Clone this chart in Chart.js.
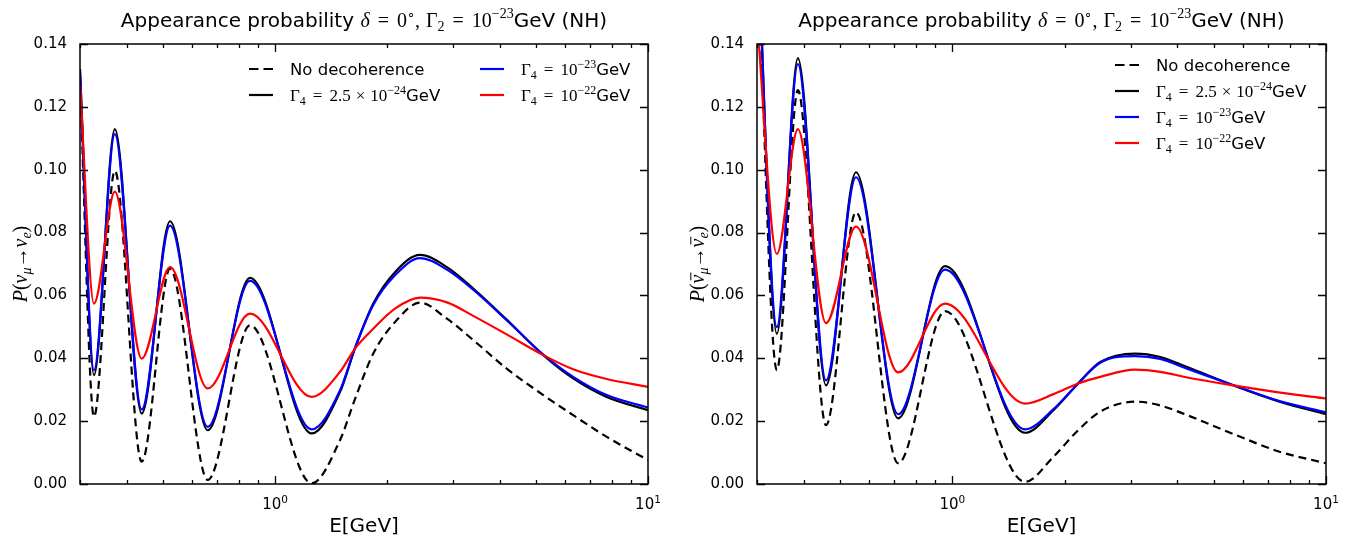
<!DOCTYPE html>
<html>
<head>
<meta charset="utf-8">
<script src="https://cdn.jsdelivr.net/npm/chart.js@4.4.0/dist/chart.umd.min.js"></script>
<style>
  body { margin: 0; background: #fff; }
  #wrap { display: flex; width: 1358px; height: 539px; }
  canvas { display: block; }
</style>
</head>
<body>
<div id="wrap">
  <canvas id="nuGraph" width="679" height="539"></canvas>
  <canvas id="nubarGraph" width="679" height="539"></canvas>
</div>
<script>
// neutrino panel, E in GeV
const nuEnergy = [0.300, 0.327, 0.372, 0.439, 0.523, 0.660, 0.857, 1.254, 1.494, 1.638, 1.834, 2.097, 2.447, 2.89, 3.40, 4.18, 5.24, 6.30, 7.75, 10];
const nuNoDecoherence = [0.128, 0.0214, 0.0997, 0.0071, 0.0685, 0.0013, 0.0505, 0.0002, 0.0140, 0.0270, 0.0415, 0.0515, 0.0577, 0.0526, 0.0458, 0.0367, 0.0283, 0.0219, 0.0150, 0.0076];
const nuGamma25e24 = [0.132, 0.0346, 0.1129, 0.0224, 0.0836, 0.0171, 0.0656, 0.0161, 0.0293, 0.0431, 0.0574, 0.0674, 0.0729, 0.0690, 0.0622, 0.0523, 0.0410, 0.0336, 0.0277, 0.0235];
const nuGamma1e23 = [0.131, 0.0362, 0.1113, 0.0237, 0.0822, 0.0182, 0.0646, 0.0174, 0.0298, 0.0433, 0.0570, 0.0664, 0.0719, 0.0682, 0.0618, 0.0521, 0.0412, 0.0341, 0.0283, 0.0243];
const nuGamma1e22 = [0.127, 0.0574, 0.0930, 0.0399, 0.0690, 0.0304, 0.0542, 0.0277, 0.0357, 0.0431, 0.0494, 0.0558, 0.0593, 0.0578, 0.0535, 0.0476, 0.0410, 0.0365, 0.0334, 0.0309];

// antineutrino panel
const nubarEnergy = [0.300, 0.339, 0.386, 0.459, 0.552, 0.716, 0.956, 1.566, 1.865, 2.171, 2.487, 3.086, 3.6, 4.25, 5.65, 7.55, 10];
const nubarNoDecoherence = [0.175, 0.0362, 0.1253, 0.0187, 0.0865, 0.0066, 0.0550, 0.0007, 0.0087, 0.0171, 0.0230, 0.0262, 0.0250, 0.0219, 0.0159, 0.0102, 0.0066];
const nubarGamma25e24 = [0.180, 0.0478, 0.1355, 0.0314, 0.0992, 0.0209, 0.0693, 0.0163, 0.0235, 0.0320, 0.0388, 0.0415, 0.0404, 0.0372, 0.0314, 0.0261, 0.0222];
const nubarGamma1e23 = [0.178, 0.0499, 0.1336, 0.0330, 0.0976, 0.0222, 0.0682, 0.0174, 0.0238, 0.0320, 0.0386, 0.0407, 0.0398, 0.0367, 0.0314, 0.0263, 0.0228];
const nubarGamma1e22 = [0.148, 0.0732, 0.1129, 0.0512, 0.0819, 0.0355, 0.0574, 0.0256, 0.0286, 0.0320, 0.0341, 0.0364, 0.0357, 0.0339, 0.0314, 0.0291, 0.0272];

const seriesLabels = ['No decoherence', 'Γ4 = 2.5×10^-24 GeV', 'Γ4 = 10^-23 GeV', 'Γ4 = 10^-22 GeV'];
const yTicks = [0, 0.02, 0.04, 0.06, 0.08, 0.10, 0.12, 0.14];

const SANS = 'DejaVu Sans';
const SERIF = 'Liberation Serif';

function sans(t, size) { return {t, font: `${size}px "${SANS}"`, dy: 0, size}; }
function rm(t, size, dy = 0) { return {t, font: `${size}px "${SERIF}"`, dy, size}; }
function it(t, size, dy = 0, bar = false) { return {t, font: `italic ${size}px "${SERIF}"`, dy, size, bar}; }
function gap(px) { return {gap: px}; }

function drawRuns(ctx, runs, x, y, align) {
  const widths = runs.map(r => {
    if (r.gap) return r.gap;
    ctx.font = r.font;
    return ctx.measureText(r.t).width;
  });
  const total = widths.reduce((a, b) => a + b, 0);
  let cx = align === 'center' ? x - total / 2 : x;
  ctx.textAlign = 'left';
  ctx.textBaseline = 'alphabetic';
  runs.forEach((r, i) => {
    if (!r.gap) {
      ctx.font = r.font;
      ctx.fillText(r.t, cx, y + r.dy);
      if (r.bar) {
        const by = y + r.dy - r.size * 0.66;
        ctx.beginPath();
        ctx.lineWidth = 1;
        ctx.moveTo(cx + 3, by);
        ctx.lineTo(cx + widths[i] + 2, by);
        ctx.stroke();
      }
    }
    cx += widths[i];
  });
}

const titleRuns = [
  sans('Appearance probability ', 20),
  it('δ', 20), gap(8), rm('=', 20), gap(8), rm('0', 20), rm('∘', 13, -9),
  rm(',', 20), gap(6), rm('Γ', 20), rm('2', 14, 4), gap(8), rm('=', 20), gap(8), rm('10', 20), rm('−23', 14, -9),
  sans('GeV (NH)', 20)
];

function gammaRuns(mid, ex) {
  return [rm('Γ', 17), rm('4', 12, 4), gap(7), rm('=', 17), gap(7), ...mid, rm('10', 17), rm(ex, 12, -7), sans('GeV', 16.5)];
}
const legendRuns = [
  [sans('No decoherence', 16.5)],
  gammaRuns([rm('2.5', 17), gap(5), rm('×', 17), gap(5)], '−24'),
  gammaRuns([], '−23'),
  gammaRuns([], '−22')
];

const styles = [
  {color: '#000000', dash: [8, 5]},
  {color: '#000000', dash: []},
  {color: '#0000ff', dash: []},
  {color: '#ff0000', dash: []}
];

function isDecade(v) {
  const e = Math.log10(v);
  return Math.abs(e - Math.round(e)) < 1e-6;
}
function isWholeTick(v) {
  const m = v / Math.pow(10, Math.floor(Math.log10(v) + 1e-9));
  return Math.abs(m - Math.round(m)) < 1e-6;
}

function panelPlugin(cfg) {
  return {
    id: 'panelDecor',
    afterDatasetsDraw(chart) {
      const {ctx, chartArea: a, scales: {x, y}} = chart;
      ctx.save();
      ctx.strokeStyle = '#000';
      ctx.lineWidth = 1.3;
      ctx.beginPath();
      x.ticks.forEach(t => {
        if (!isWholeTick(t.value)) return;
        const px = Math.round(x.getPixelForValue(t.value)) + 0.5;
        const len = isDecade(t.value) ? 8 : 4;
        ctx.moveTo(px, a.bottom); ctx.lineTo(px, a.bottom - len);
        ctx.moveTo(px, a.top); ctx.lineTo(px, a.top + len);
      });
      yTicks.forEach(v => {
        const py = Math.round(y.getPixelForValue(v)) + 0.5;
        ctx.moveTo(a.left, py); ctx.lineTo(a.left + 8, py);
        ctx.moveTo(a.right, py); ctx.lineTo(a.right - 8, py);
      });
      ctx.stroke();
      ctx.lineWidth = 1.5;
      ctx.strokeRect(a.left, a.top, a.right - a.left, a.bottom - a.top);
      ctx.restore();
    },
    afterDraw(chart) {
      const {ctx, chartArea: a, scales: {x}} = chart;
      const cx = (a.left + a.right) / 2;
      ctx.save();
      ctx.fillStyle = '#000';
      ctx.strokeStyle = '#000';

      drawRuns(ctx, titleRuns, cx, 27, 'center');

      // decade labels 10^n
      x.ticks.forEach(t => {
        if (!isDecade(t.value)) return;
        const ex = String(Math.round(Math.log10(t.value)));
        drawRuns(ctx, [sans('10', 15), {...sans(ex, 10.5), dy: -6}],
          x.getPixelForValue(t.value), a.bottom + 25, 'center');
      });

      ctx.font = `20px "${SANS}"`;
      ctx.textAlign = 'center';
      ctx.textBaseline = 'middle';
      ctx.fillText('E[GeV]', cx, 527);

      ctx.save();
      ctx.translate(cfg.yLabelX, (a.top + a.bottom) / 2);
      ctx.rotate(-Math.PI / 2);
      drawRuns(ctx, cfg.yLabelRuns, 0, 0, 'center');
      ctx.restore();

      // legend
      cfg.legendPos.forEach((p, k) => {
        const lx = a.left + p.x;
        const ly = a.top + p.y;
        ctx.beginPath();
        ctx.lineWidth = 2.2;
        ctx.strokeStyle = styles[k].color;
        ctx.setLineDash(k === 0 ? [9.5, 5] : []);
        ctx.moveTo(lx, ly);
        ctx.lineTo(lx + 24, ly);
        ctx.stroke();
        ctx.setLineDash([]);
        ctx.strokeStyle = '#000';
        drawRuns(ctx, legendRuns[k], lx + 41, ly + 6, 'left');
      });
      ctx.restore();
    }
  };
}

function makePanel(canvasId, energy, series, cfg) {
  const datasets = series.map((vals, k) => ({
    label: seriesLabels[k],
    data: energy.map((e, i) => ({x: e, y: vals[i]})),
    borderColor: styles[k].color,
    borderDash: styles[k].dash,
    borderWidth: 2.2,
    pointRadius: 0,
    cubicInterpolationMode: 'monotone',
    fill: false,
    order: 4 - k
  }));
  return new Chart(document.getElementById(canvasId).getContext('2d'), {
    type: 'line',
    data: {datasets},
    options: {
      responsive: false,
      animation: false,
      layout: {padding: {top: 44, right: cfg.padRight, left: 0, bottom: 0}},
      plugins: {legend: {display: false}, tooltip: {enabled: false}},
      scales: {
        x: {
          type: 'logarithmic', min: 0.3, max: 10,
          grid: {display: false}, border: {display: false},
          ticks: {display: false},
          afterFit: s => { s.height = 55; }
        },
        y: {
          type: 'linear', min: 0, max: 0.14,
          grid: {display: false}, border: {display: false},
          ticks: {stepSize: 0.02, padding: 5, color: '#000', font: {family: SANS, size: 15}, callback: v => v.toFixed(2)},
          afterFit: s => { s.width = cfg.axisWidth; }
        }
      }
    },
    plugins: [panelPlugin(cfg)]
  });
}

makePanel('nuGraph', nuEnergy, [nuNoDecoherence, nuGamma25e24, nuGamma1e23, nuGamma1e22], {
  padRight: 31,
  axisWidth: 80,
  yLabelX: 27,
  yLabelRuns: [it('P', 20), rm('(', 20), it('ν', 20), it('μ', 14, 4), rm('→', 20), it('ν', 20), it('e', 14, 4), rm(')', 20)],
  legendPos: [{x: 169, y: 25}, {x: 169, y: 51}, {x: 400, y: 25}, {x: 400, y: 51}]
});

makePanel('nubarGraph', nubarEnergy, [nubarNoDecoherence, nubarGamma25e24, nubarGamma1e23, nubarGamma1e22], {
  padRight: 32,
  axisWidth: 78,
  yLabelX: 25,
  yLabelRuns: [it('P', 20), rm('(', 20), it('ν', 20, 0, true), it('μ', 14, 4), rm('→', 20), it('ν', 20, 0, true), it('e', 14, 4), rm(')', 20)],
  legendPos: [{x: 358, y: 21}, {x: 358, y: 47}, {x: 358, y: 73}, {x: 358, y: 99}]
});
</script>
</body>
</html>
